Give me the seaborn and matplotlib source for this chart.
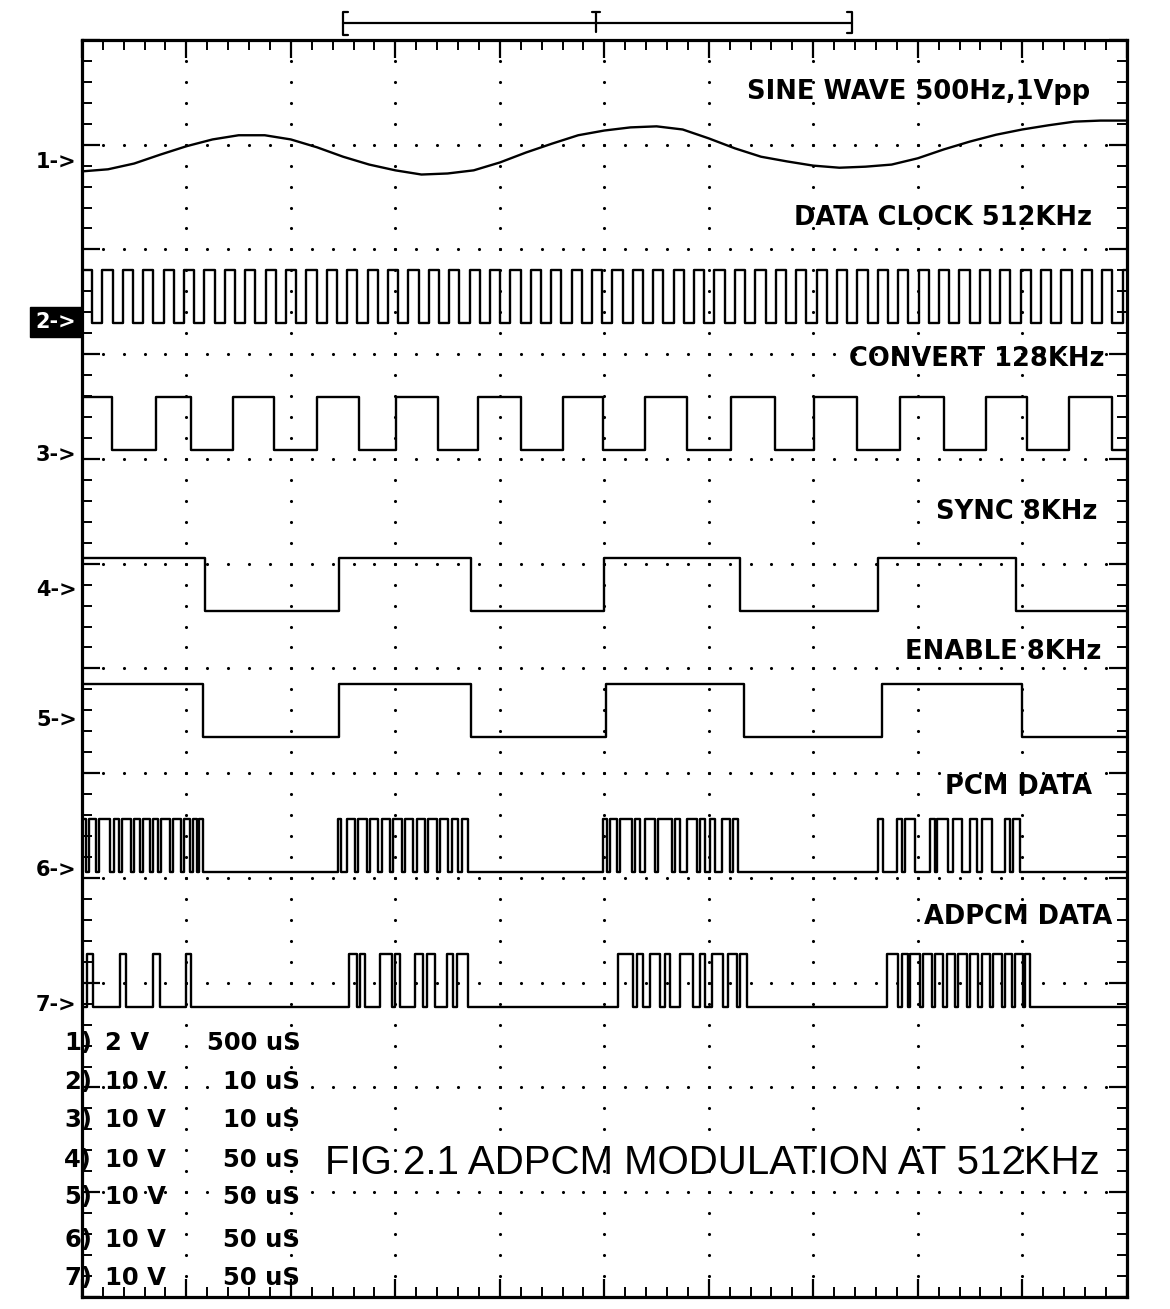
import numpy as np
import matplotlib
matplotlib.use("Agg")
import matplotlib.pyplot as plt
import seaborn as sns
from matplotlib.ticker import MultipleLocator

sns.set_theme(style="white")
plt.rcParams['font.family'] = ['DejaVu Sans']
plt.rcParams['text.color'] = 'black'

# ---------------- data ----------------
CHANNELS = ["1", "2", "3", "4", "5", "6", "7"]
TRACE_LABELS = ["SINE WAVE 500Hz,1Vpp", "DATA CLOCK 512KHz", "CONVERT 128KHz",
                "SYNC 8KHz", "ENABLE 8KHz", "PCM DATA", "ADPCM DATA"]
VOLTS_PER_DIV = [2, 10, 10, 10, 10, 10, 10]
TIME_PER_DIV_US = [500, 10, 10, 50, 50, 50, 50]
SETTING_VOLTS = ["2 V", "10 V", "10 V", "10 V", "10 V", "10 V", "10 V"]
SETTING_TIMES = ["500 uS", "10 uS", "10 uS", "50 uS", "50 uS", "50 uS", "50 uS"]
TITLE = "FIG 2.1 ADPCM MODULATION AT 512KHz"
LOGIC_HIGH_V = 5.0

# channel 1: sine wave (time in us, volts)
SINE_T_US = [0, 125, 250, 375, 500, 625, 750, 875, 1000, 1125, 1250, 1375, 1500,
             1625, 1750, 1875, 2000, 2125, 2250, 2375, 2500, 2625, 2750, 2875,
             3000, 3125, 3250, 3375, 3500, 3625, 3750, 3875, 4000, 4125, 4250,
             4375, 4500, 4625, 4750, 4875, 5000]
SINE_V = [-0.17, -0.13, -0.02, 0.15, 0.31, 0.44, 0.52, 0.52, 0.44, 0.29, 0.11,
          -0.04, -0.15, -0.23, -0.21, -0.15, 0.00, 0.19, 0.36, 0.52, 0.61, 0.67,
          0.69, 0.63, 0.46, 0.27, 0.11, 0.02, -0.06, -0.10, -0.08, -0.04, 0.08,
          0.25, 0.40, 0.53, 0.63, 0.71, 0.78, 0.80, 0.80]

# channel 2: data clock, one character per half period
CLOCK_FREQ_KHZ = 512
CLOCK_BITS = ("10101010101010101010101010101010101010101010101010"
              "10101010101010101010101010101010101010101010101010101")

# channels 3-7: high intervals (start_us, end_us)
CONVERT_HIGH_US = [(0, 2.9), (7.1, 10.4), (14.5, 18.4), (22.5, 26.5), (30.1, 34.1),
                   (37.9, 42.0), (46.0, 49.9), (53.9, 57.9), (62.1, 66.3),
                   (70.1, 74.2), (78.3, 82.5), (86.5, 90.5), (94.5, 98.6)]
SYNC_HIGH_US = [(0, 59), (123, 186), (250, 315), (381, 447)]
ENABLE_HIGH_US = [(0, 58), (123, 186), (251, 317), (383, 450)]
PCM_HIGH_US = [
    (0, 1.9), (3.3, 6.7), (8.1, 13.4), (15.3, 17.7), (19.1, 23.4), (24.9, 27.8),
    (29.2, 32.5), (34.0, 36.4), (37.8, 42.1), (43.5, 47.4), (48.8, 51.7),
    (53.1, 55.0), (56.0, 57.9),
    (122.5, 124.0), (126.8, 130.6), (132.1, 136.4), (137.8, 141.6), (143.5, 147.4),
    (148.8, 153.1), (154.6, 158.4), (160.3, 164.1), (165.6, 169.9), (171.3, 175.1),
    (177.0, 179.9), (181.8, 184.7),
    (249.3, 251.2), (252.6, 256.0), (257.4, 263.2), (264.6, 267.0), (269.4, 274.2),
    (275.6, 282.3), (283.8, 286.2), (289.5, 294.3), (296.0, 298.4), (300.4, 302.8),
    (306.2, 310.1), (311.5, 313.9),
    (380.9, 383.3), (390.0, 392.4), (393.8, 398.6), (405.8, 408.2), (409.1, 414.4),
    (416.8, 421.1), (424.9, 428.3), (430.7, 435.4), (441.7, 444.1), (445.5, 448.8)]
ADPCM_HIGH_US = [
    (2.4, 5.3), (18.2, 21.1), (34.0, 37.3), (49.8, 52.2),
    (127.8, 131.6), (133.0, 135.4), (142.6, 148.3), (149.8, 152.2), (159.3, 163.2),
    (165.1, 168.9), (174.7, 177.5), (179.4, 184.7),
    (256.5, 263.6), (265.6, 268.4), (271.8, 276.6), (279.0, 281.4), (286.2, 292.4),
    (295.7, 298.1), (301.5, 306.7), (309.1, 313.4), (314.9, 318.2),
    (385.2, 390.5), (392.4, 395.3), (396.2, 401.0), (402.4, 406.7), (408.2, 412.0),
    (413.9, 417.8), (419.2, 423.5), (425.0, 428.9), (430.7, 434.5), (435.9, 440.2),
    (441.7, 445.0), (446.4, 450.3), (451.2, 453.6)]

# ---------------- layout (screen divisions) ----------------
N_XDIV, N_YDIV = 10, 12
GROUND_DIV = [10.83, 9.30, 8.09, 6.55, 5.35, 4.06, 2.77]
MARKER_DIV = [10.83, 9.31, 8.04, 6.75, 5.51, 4.08, 2.79]
LABEL_POS = [(9.65, 11.50), (9.67, 10.30), (9.79, 8.95), (9.72, 7.49),
             (9.76, 6.16), (9.67, 4.87), (9.86, 3.63)]
SETTING_ROWS_Y = [2.42, 2.05, 1.69, 1.31, 0.95, 0.54, 0.18]

LW = 1.7


def intervals_to_steps(intervals, t_end):
    xs, ys = [0.0], [0.0]
    for a, b in intervals:
        xs += [a, a, b, b]
        ys += [0, 1, 1, 0]
    xs.append(t_end)
    ys.append(0)
    return np.array(xs, float), np.array(ys, float)


def bits_to_intervals(bits, width):
    out = []
    start = None
    for i, c in enumerate(bits + "0"):
        if c == "1" and start is None:
            start = i * width
        elif c != "1" and start is not None:
            out.append((start, i * width))
            start = None
    return out


half_period_us = 1000.0 / CLOCK_FREQ_KHZ / 2.0
clock_high = bits_to_intervals(CLOCK_BITS, half_period_us)

digital = [clock_high, CONVERT_HIGH_US, SYNC_HIGH_US, ENABLE_HIGH_US,
           PCM_HIGH_US, ADPCM_HIGH_US]

fig = plt.figure(figsize=(11.7, 13.09), dpi=100)
fig.patch.set_facecolor("white")
ax = fig.add_axes([0.070, 0.0092, 0.893, 0.9603])
ax.set_facecolor("white")
ax.set_xlim(0, N_XDIV)
ax.set_ylim(0, N_YDIV)

# dotted graticule
gx, gy = [], []
for yy in range(1, N_YDIV):
    for xx in np.arange(0.2, N_XDIV, 0.2):
        gx.append(xx); gy.append(yy)
for xx in range(1, N_XDIV):
    for yy in np.arange(0.2, N_YDIV, 0.2):
        gx.append(xx); gy.append(yy)
ax.scatter(gx, gy, s=5, color="black", linewidths=0, zorder=1)

# channel 1 sine
t_div = np.array(SINE_T_US) / TIME_PER_DIV_US[0]
v_div = GROUND_DIV[0] + np.array(SINE_V) / VOLTS_PER_DIV[0]
sns.lineplot(x=t_div, y=v_div, ax=ax, color="black", lw=LW, estimator=None,
             sort=False, zorder=3)

# channels 2-7 digital
for k, intervals in enumerate(digital, start=1):
    t_end = TIME_PER_DIV_US[k] * N_XDIV
    xs, lv = intervals_to_steps(intervals, t_end)
    xd = xs / TIME_PER_DIV_US[k]
    yd = GROUND_DIV[k] + lv * LOGIC_HIGH_V / VOLTS_PER_DIV[k]
    sns.lineplot(x=xd, y=yd, ax=ax, color="black", lw=LW, estimator=None,
                 sort=False, zorder=3)

# trace labels
for (lx, ly), lab in zip(LABEL_POS, TRACE_LABELS):
    ax.text(lx, ly, lab, ha="right", va="center", fontsize=18.5,
            fontweight="bold", color="black", zorder=4)

# channel markers
for i, (ch, my) in enumerate(zip(CHANNELS, MARKER_DIV)):
    if ch == "2":
        ax.text(-0.06, my, ch + "->", ha="right", va="center", fontsize=15,
                fontweight="bold", color="white", clip_on=False,
                bbox=dict(boxstyle="square,pad=0.25", fc="black", ec="black"))
    else:
        ax.text(-0.05, my, ch + "->", ha="right", va="center", fontsize=15,
                fontweight="bold", color="black", clip_on=False)

# settings table
for ch, vs, ts, ry in zip(CHANNELS, SETTING_VOLTS, SETTING_TIMES, SETTING_ROWS_Y):
    ax.text(-0.17, ry, ch + ")", ha="left", va="center", fontsize=17.5,
            fontweight="bold", color="black", clip_on=False, zorder=4)
    ax.text(0.22, ry, vs, ha="left", va="center", fontsize=17.5,
            fontweight="bold", color="black", zorder=4)
    ax.text(2.09, ry, ts, ha="right", va="center", fontsize=17.5,
            fontweight="bold", color="black", zorder=4)

# figure caption
ax.text(2.33, 1.28, TITLE, ha="left", va="center", fontsize=29,
        family=["Liberation Sans", "DejaVu Sans"], color="black", zorder=4)

# time-base bracket above the screen
by = 12.16
ax.plot([2.50, 7.37], [by, by], color="black", lw=1.6, clip_on=False)
ax.plot([2.55, 2.50, 2.50, 2.55], [12.27, 12.27, 12.05, 12.05], color="black",
        lw=1.6, clip_on=False)
ax.plot([7.32, 7.37, 7.37, 7.32], [12.27, 12.27, 12.07, 12.07], color="black",
        lw=1.6, clip_on=False)
ax.plot([4.92, 4.92], [12.08, 12.27], color="black", lw=1.6, clip_on=False)
ax.plot([4.88, 4.96], [12.27, 12.27], color="black", lw=1.6, clip_on=False)

# frame and ticks
for sp in ax.spines.values():
    sp.set_visible(True)
    sp.set_color("black")
    sp.set_linewidth(2.3)
ax.xaxis.set_major_locator(MultipleLocator(1))
ax.xaxis.set_minor_locator(MultipleLocator(0.2))
ax.yaxis.set_major_locator(MultipleLocator(1))
ax.yaxis.set_minor_locator(MultipleLocator(0.2))
ax.tick_params(which="both", direction="in", top=True, right=True, bottom=True,
               left=True, labelbottom=False, labelleft=False, color="black")
ax.tick_params(which="major", length=13, width=1.6)
ax.tick_params(which="minor", length=7, width=1.4)
ax.set_xlabel("")
ax.set_ylabel("")

fig.savefig("out.png", dpi=100, facecolor="white")
